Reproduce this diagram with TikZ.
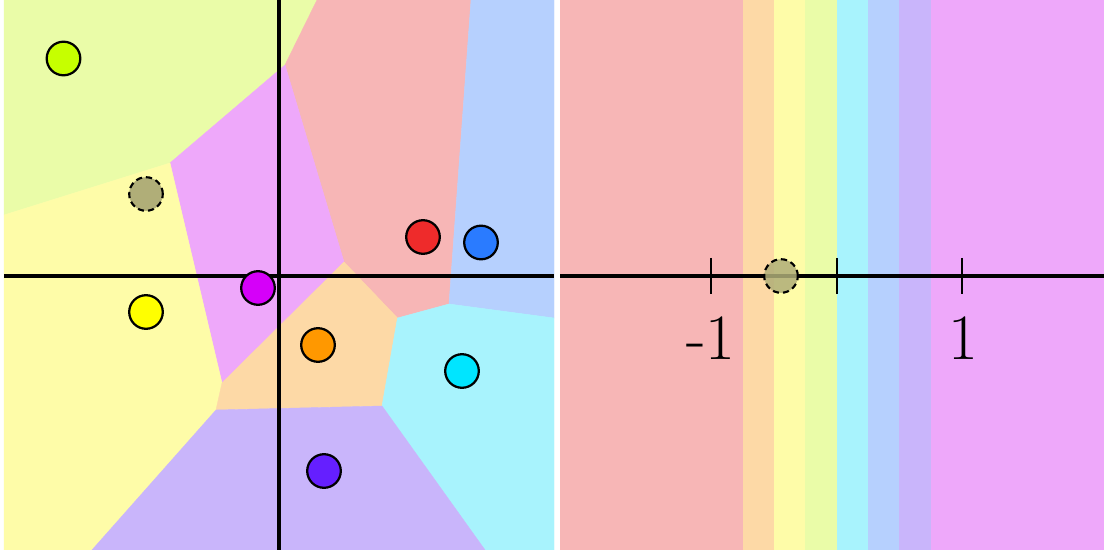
\documentclass[tikz,border=0pt]{standalone}
\definecolor{rYG}{HTML}{EAFCA8}
\definecolor{rRed}{HTML}{F7B6B6}
\definecolor{rBlue}{HTML}{B6D0FE}
\definecolor{rMag}{HTML}{EEA8FA}
\definecolor{rYel}{HTML}{FEFCA8}
\definecolor{rOra}{HTML}{FDD9A6}
\definecolor{rCya}{HTML}{A8F3FD}
\definecolor{rLav}{HTML}{C9B5FB}
\definecolor{cYG}{HTML}{C6FF00}
\definecolor{cRed}{HTML}{EE2B2B}
\definecolor{cBlue}{HTML}{2A7BFF}
\definecolor{cMag}{HTML}{D500F9}
\definecolor{cYel}{HTML}{FFFF00}
\definecolor{cOra}{HTML}{FF9800}
\definecolor{cCya}{HTML}{00E5FF}
\definecolor{cPur}{HTML}{651FFF}
\definecolor{cGrey}{HTML}{B0AE78}
\begin{document}
\begin{tikzpicture}[x=0.025cm,y=-0.025cm,
  region/.style={fill=#1,draw=#1,line width=0.3pt,line join=round},
  pt/.style={circle,draw=black,line width=1.6pt,minimum size=0.84cm,inner sep=0pt,fill=#1},
  query/.style={circle,draw=black,line width=1.5pt,minimum size=0.84cm,inner sep=0pt,fill=cGrey,dash pattern=on 4.4pt off 2.8pt},
  axisline/.style={line width=3.2pt},
  tickline/.style={line width=1.4pt},
  lab/.style={anchor=base,inner sep=0pt,font=\fontsize{46}{50}\selectfont}]
\useasboundingbox (0,0) rectangle (1104,550);
\fill[white] (0,0) rectangle (1104,550);
% Voronoi vertices
\coordinate (A) at (317,0);
\coordinate (B) at (285,65);
\coordinate (C) at (170,163);
\coordinate (D) at (4,215);
\coordinate (E) at (222,383);
\coordinate (F) at (216,410);
\coordinate (G) at (92,550);
\coordinate (H) at (344,262);
\coordinate (I) at (397.5,318);
\coordinate (J) at (382,406);
\coordinate (K) at (485,550);
\coordinate (L) at (449,304);
\coordinate (M) at (471,0);
\coordinate (N) at (554,318);
% regions
\path[region=rYG] (4,0) -- (A) -- (B) -- (C) -- (D) -- cycle;
\path[region=rRed] (A) -- (M) -- (L) -- (I) -- (H) -- (B) -- cycle;
\path[region=rBlue] (M) -- (554,0) -- (N) -- (L) -- cycle;
\path[region=rMag] (B) -- (H) -- (E) -- (C) -- cycle;
\path[region=rYel] (D) -- (C) -- (E) -- (F) -- (G) -- (4,550) -- cycle;
\path[region=rOra] (H) -- (I) -- (J) -- (F) -- (E) -- cycle;
\path[region=rCya] (L) -- (N) -- (554,550) -- (K) -- (J) -- (I) -- cycle;
\path[region=rLav] (F) -- (J) -- (K) -- (G) -- cycle;
% right panel strips
\fill[rRed] (560,0) rectangle (743,550);
\fill[rOra] (743,0) rectangle (774,550);
\fill[rYel] (774,0) rectangle (805,550);
\fill[rYG] (805,0) rectangle (837,550);
\fill[rCya] (837,0) rectangle (868,550);
\fill[rBlue] (868,0) rectangle (899,550);
\fill[rLav] (899,0) rectangle (930.5,550);
\fill[rMag] (930.5,0) rectangle (1104,550);
% axes
\coordinate (lx0) at (4,276);
\coordinate (lx1) at (554,276);
\coordinate (ly0) at (279,0);
\coordinate (ly1) at (279,550);
\coordinate (rx0) at (560,276);
\coordinate (rx1) at (1104,276);
\draw[axisline] (lx0) -- (lx1);
\draw[axisline] (ly0) -- (ly1);
\draw[axisline] (rx0) -- (rx1);
\draw[tickline] (711,258) -- (711,294);
\draw[tickline] (837,258) -- (837,294);
\draw[tickline] (962,258) -- (962,294);
\node[lab] (lm1) at (711,359) {-1};
\node[lab] (lp1) at (963,359) {1};
% points
\node[pt=cYG] (pYG) at (63.5,58.5) {};
\node[query] (q) at (146,194) {};
\node[pt=cRed] (pRed) at (423,237) {};
\node[pt=cBlue] (pBlue) at (481,242.5) {};
\node[pt=cMag] (pMag) at (258,288) {};
\node[pt=cYel] (pYel) at (146,312) {};
\node[pt=cOra] (pOra) at (318,345) {};
\node[pt=cCya] (pCya) at (462,371) {};
\node[pt=cPur] (pPur) at (324,471) {};
\node[query,fill opacity=0.85] (q2) at (781,276) {};
\end{tikzpicture}
\end{document}
